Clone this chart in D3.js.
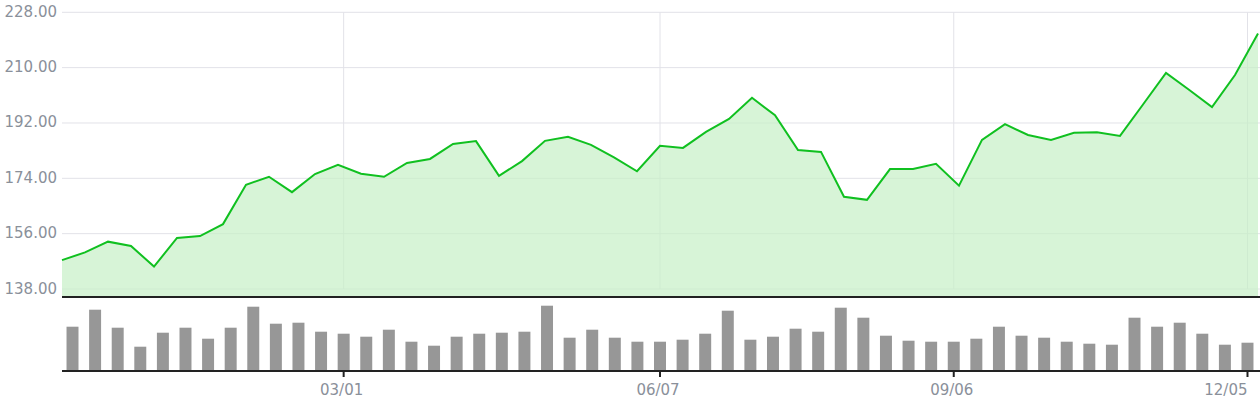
<!DOCTYPE html>
<html>
<head>
<meta charset="utf-8">
<script src="https://cdn.jsdelivr.net/npm/d3@7"></script>
<style>
  html, body { margin: 0; padding: 0; background: #fff; }
  svg { display: block; font-family: "DejaVu Sans", Verdana, sans-serif; }
</style>
</head>
<body>
<svg id="chart" width="1260" height="400"></svg>
<script>
const dates = ["12/07","12/14","12/21","12/28","01/04","01/11","01/18","01/25","02/01","02/08","02/15","02/22",
  "03/01","03/08","03/15","03/22","03/29","04/05","04/12","04/19","04/26","05/03","05/10","05/17","05/24","05/31",
  "06/07","06/14","06/21","06/28","07/05","07/12","07/19","07/26","08/02","08/09","08/16","08/23","08/30",
  "09/06","09/13","09/20","09/27","10/04","10/11","10/18","10/25","11/01","11/08","11/15","11/22","11/29","12/05"];

const prices = [147.4,149.9,153.4,152.0,145.3,154.6,155.2,159.1,171.9,174.5,169.5,175.4,178.4,
  175.5,174.5,179.0,180.3,185.2,186.1,174.8,179.6,186.2,187.5,184.9,180.8,176.3,184.6,183.9,
  189.1,193.3,200.2,194.5,183.2,182.6,168.0,167.0,177.0,177.0,178.7,171.6,186.5,191.6,188.1,
  186.5,188.8,189.0,187.8,198.0,208.3,202.8,197.2,207.6,221.1];

const volumes = [44.3,61.3,43.3,24.3,38.3,43.3,32.3,43.3,64.3,47.3,48.3,39.3,37.3,
  34.3,41.3,29.3,25.3,34.3,37.3,38.3,39.3,65.3,33.3,41.3,33.3,29.3,29.3,
  31.3,37.3,60.3,31.3,34.3,42.3,39.3,63.3,53.3,35.3,30.3,29.3,29.3,
  32.3,44.3,35.3,33.3,29.3,27.3,26.3,53.3,44.3,48.3,37.3,26.3,28.3];

const priceTicks = [138, 156, 174, 192, 210, 228];
const dateTicks = ["03/01", "06/07", "09/06", "12/05"];

const svg = d3.select("#chart");
const left = 62, right = 1258, gridRight = 1260;
const priceTop = 12.3, priceGridBottom = 289, priceBottom = 297;
const volTop = 297, volBottom = 371;

const xPoint = d3.scalePoint().domain(dates).range([left, right]);
const xBand = d3.scaleBand().domain(dates).range([left, right]).paddingInner(0.47).paddingOuter(0.2);
const y = d3.scaleLinear().domain([138, 228]).range([priceGridBottom, priceTop]);
const yVol = d3.scaleLinear().domain([0, 74]).range([volBottom, volTop]);

const gridColor = "#e2e2e8";
const labelColor = "#8a909a";

// horizontal grid
svg.append("g").selectAll("line").data(priceTicks).join("line")
  .attr("x1", left).attr("x2", gridRight)
  .attr("y1", d => y(d)).attr("y2", d => y(d))
  .attr("stroke", gridColor).attr("stroke-width", 1);

// vertical grid
svg.append("g").selectAll("line").data(dateTicks).join("line")
  .attr("x1", d => xBand(d) + xBand.bandwidth() / 2).attr("x2", d => xBand(d) + xBand.bandwidth() / 2)
  .attr("y1", y(228)).attr("y2", y(138))
  .attr("stroke", gridColor).attr("stroke-width", 1);

// area
const area = d3.area().x((d, i) => xPoint(dates[i])).y0(priceBottom).y1(d => y(d));
svg.append("path").datum(prices).attr("d", area)
  .attr("fill", "#c6f0c6").attr("fill-opacity", 0.7);

// line
const line = d3.line().x((d, i) => xPoint(dates[i])).y(d => y(d));
svg.append("path").datum(prices).attr("d", line)
  .attr("fill", "none").attr("stroke", "#10c020").attr("stroke-width", 2)
  .attr("stroke-linejoin", "miter");

// y labels
svg.append("g").selectAll("text").data(priceTicks).join("text")
  .attr("x", 57).attr("y", d => y(d)).attr("dy", "0.3em")
  .attr("text-anchor", "end").attr("fill", labelColor).attr("font-size", 15)
  .text(d => d3.format(".2f")(d));

// separator
svg.append("line").attr("x1", left).attr("x2", gridRight).attr("y1", priceBottom).attr("y2", priceBottom)
  .attr("stroke", "#222").attr("stroke-width", 2);

// volume bars
svg.append("g").selectAll("rect").data(volumes).join("rect")
  .attr("x", (d, i) => xBand(dates[i])).attr("width", xBand.bandwidth())
  .attr("y", d => yVol(d)).attr("height", d => yVol(0) - yVol(d))
  .attr("fill", "#979797");

// bottom axis
svg.append("line").attr("x1", left).attr("x2", gridRight).attr("y1", volBottom).attr("y2", volBottom)
  .attr("stroke", "#222").attr("stroke-width", 2);

svg.append("g").selectAll("line").data(dateTicks).join("line")
  .attr("x1", d => xBand(d) + xBand.bandwidth() / 2).attr("x2", d => xBand(d) + xBand.bandwidth() / 2)
  .attr("y1", volBottom).attr("y2", volBottom + 6)
  .attr("stroke", "#222").attr("stroke-width", 2);

svg.append("g").selectAll("text").data(dateTicks).join("text")
  .attr("x", (d, i) => {
    const cx = xBand(d) + xBand.bandwidth() / 2;
    return i === dateTicks.length - 1 ? cx : cx - 2;
  })
  .attr("y", 395)
  .attr("text-anchor", (d, i) => i === dateTicks.length - 1 ? "end" : "middle")
  .attr("fill", labelColor).attr("font-size", 15)
  .text(d => d);
</script>
</body>
</html>
